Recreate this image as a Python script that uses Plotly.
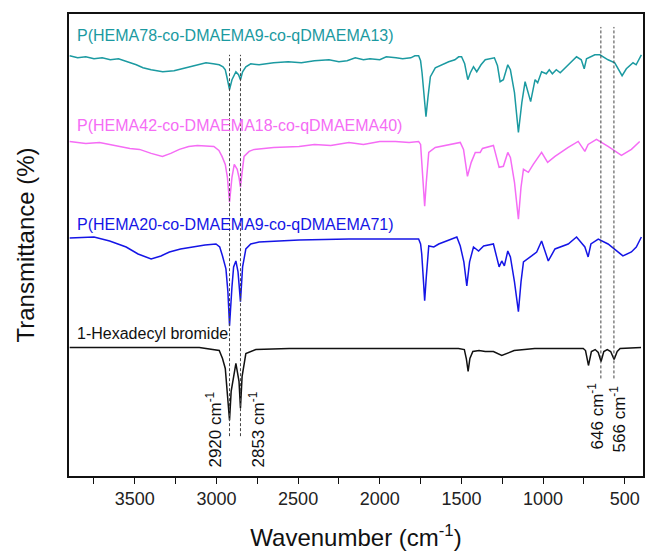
import plotly.graph_objects as go

# ---- data (wavenumber cm^-1, offset transmittance a.u.) ----
teal_wn = [3899, 3850, 3800, 3750, 3700, 3650, 3600, 3540, 3491, 3450, 3400, 3329, 3260, 3186, 3120,
           3064, 3020, 2983, 2960, 2946, 2935, 2920, 2905, 2881, 2865, 2853, 2840, 2820, 2790, 2739,
           2650, 2561, 2480, 2400, 2311, 2250, 2200, 2150, 2100, 2060, 2000, 1960, 1900, 1860, 1810,
           1785, 1762, 1750, 1741, 1728, 1717, 1705, 1690, 1660, 1620, 1578, 1540, 1517,
           1499, 1480, 1461, 1445, 1426, 1406, 1380, 1354, 1298, 1279, 1263, 1243, 1216, 1200, 1175,
           1151, 1130, 1110, 1076, 1049, 1033, 1009, 980, 962, 943, 919, 895, 865, 835, 795, 766,
           748, 734, 683, 652, 602, 561, 516, 490, 449, 430, 398]
teal_t = [422, 420, 421, 419, 420, 418, 419, 416, 413, 410, 408, 406, 407, 410, 413,
          415, 414, 413, 411, 408, 400, 388, 398, 406, 403, 398, 406, 411, 414, 413,
          415, 416, 415, 417, 418, 416, 417, 420, 418, 419, 418, 421, 420, 419, 420,
          422, 422, 417, 405, 380, 361, 380, 401, 410, 413, 416, 418, 421,
          421, 414, 398, 405, 411, 406, 413, 418, 420, 412, 396, 398, 413, 408, 385,
          345, 375, 396, 376, 398, 395, 406, 404, 408, 404, 408, 405, 410, 415, 421, 418,
          409, 419, 423, 423, 418, 415, 402, 409, 415, 413, 423]

pink_wn = [3899, 3800, 3716, 3650, 3593, 3530, 3471, 3400, 3331, 3280, 3227, 3170, 3117, 3016, 2985,
           2966, 2946, 2933, 2920, 2905, 2891, 2873, 2862, 2853, 2843, 2831, 2800, 2769, 2650, 2494,
           2400, 2300, 2189, 2100, 2000, 1904, 1820, 1762, 1750, 1743, 1732, 1725, 1715, 1700, 1660,
           1600, 1540, 1507, 1487, 1463, 1440, 1415, 1385, 1371, 1304, 1269, 1243, 1216, 1200, 1175,
           1151, 1135, 1120, 1090, 1060, 1009, 972, 927, 846, 785, 744, 724, 673, 602, 520, 459, 408]
pink_t = [336, 334, 335, 333, 331, 329, 328, 324, 321, 324, 328, 331, 332, 331, 327,
          321, 313, 300, 275, 300, 313, 308, 300, 290, 305, 321, 326, 328, 330, 331,
          333, 332, 335, 333, 336, 336, 335, 336, 333, 318, 290, 271, 295, 325, 330,
          332, 334, 335, 328, 301, 315, 325, 325, 329, 332, 310, 311, 325, 320, 295,
          258, 290, 308, 305, 313, 325, 315, 321, 330, 336, 326, 333, 338, 331, 322, 328, 336]

blue_wn = [3899, 3750, 3654, 3600, 3553, 3480, 3400, 3340, 3288, 3220, 3146, 3070, 3003, 2980, 2963,
           2942, 2930, 2920, 2905, 2895, 2881, 2868, 2853, 2840, 2820, 2790, 2739, 2494,
           2189, 1762, 1750, 1743, 1732, 1725, 1715, 1700, 1669, 1639, 1528, 1507, 1485, 1467, 1450,
           1426, 1395, 1364, 1304, 1269, 1253, 1237, 1216, 1200, 1175, 1151, 1135, 1120, 1070, 1039,
           1009, 968, 927, 846, 795, 744, 724, 707, 662, 602, 511, 459, 429, 398]
blue_t = [239, 240, 236, 233, 230, 223, 218, 221, 225, 228, 230, 232, 233, 230, 221,
          208, 185, 151, 190, 210, 216, 205, 175, 210, 228, 233, 235, 237,
          238, 238, 233, 223, 195, 176, 200, 231, 230, 233, 240, 231, 215, 191, 215,
          230, 226, 231, 233, 210, 216, 211, 226, 220, 195, 165, 195, 215, 221, 225,
          236, 216, 228, 233, 240, 230, 220, 233, 238, 233, 221, 225, 230, 240]

black_wn = [3899, 3105, 2983, 2963, 2946, 2930, 2920, 2910, 2881, 2862, 2853, 2843, 2820, 2759, 2555,
            1518, 1482, 1470, 1459, 1448, 1430, 1392, 1354, 1304, 1253, 1177, 1051, 754, 740, 722,
            704, 681, 662, 645, 628, 607, 586, 565, 546, 528, 400]
black_t = [129, 129, 126, 118, 108, 80, 56, 85, 113, 95, 68, 100, 123, 127, 128,
           128, 127, 118, 105, 118, 125, 126, 125, 125, 121, 126, 128, 128, 126, 111,
           125, 127, 124, 115, 125, 127, 125, 117, 125, 128, 129]

series = [
    ("P(HEMA78-co-DMAEMA9-co-qDMAEMA13)", teal_wn, teal_t, "#1b9aa1", 442),
    ("P(HEMA42-co-DMAEMA18-co-qDMAEMA40)", pink_wn, pink_t, "#f56cf5", 352),
    ("P(HEMA20-co-DMAEMA9-co-qDMAEMA71)", blue_wn, blue_t, "#1515e6", 253),
    ("1-Hexadecyl bromide", black_wn, black_t, "#111111", 143),
]

marked_peaks = [2920, 2853, 646, 566]
peak_line_top = [423, 423, 451, 451]
peak_line_bottom = [40, 40, 98, 98]
peak_label_x = [3013, 2750, 675, 540]
peak_label_y = [47, 47, 60, 57]

FONT = "Liberation Sans, Arial, sans-serif"

fig = go.Figure()
for name, wn, t, color, ly in series:
    fig.add_trace(go.Scatter(x=wn, y=t, mode="lines", name=name,
                             line=dict(color=color, width=1.5), showlegend=False))
    fig.add_annotation(x=3868, y=ly, xref="x", yref="y", text=name, showarrow=False,
                       xanchor="left", yanchor="middle",
                       font=dict(family=FONT, size=16, color=color))

for pk, top, bot, lx, lyy in zip(marked_peaks, peak_line_top, peak_line_bottom, peak_label_x, peak_label_y):
    fig.add_shape(type="line", x0=pk, x1=pk, y0=bot, y1=top, xref="x", yref="y",
                  line=dict(color="#444444", width=1, dash="3px,2px"))
    fig.add_annotation(x=lx, y=lyy, xref="x", yref="y", text=f"{pk} cm<sup>-1</sup>",
                       showarrow=False, textangle=-90, xanchor="center", yanchor="middle",
                       font=dict(family=FONT, size=17, color="#111111"))

fig.update_layout(
    width=646, height=551,
    margin=dict(l=69, r=1, t=14, b=73),
    paper_bgcolor="white", plot_bgcolor="white",
    font=dict(family=FONT, color="#111111"),
    xaxis=dict(range=[3903, 388], tickvals=[3500, 3000, 2500, 2000, 1500, 1000, 500],
               ticks="outside", ticklen=6, tickwidth=1.2, tickcolor="#111111",
               minor=dict(tickvals=[3750, 3250, 2750, 2250, 1750, 1250, 750], ticks="outside",
                          ticklen=6, tickwidth=1.2, tickcolor="#111111"),
               showline=True, linecolor="#111111", linewidth=1.5, mirror=True,
               showgrid=False, zeroline=False,
               tickfont=dict(family=FONT, size=18, color="#222222"),
               title=dict(text="Wavenumber (cm<sup>-1</sup>)", standoff=24,
                          font=dict(family=FONT, size=24, color="#111111"))),
    yaxis=dict(range=[0, 464], showticklabels=False, ticks="",
               showline=True, linecolor="#111111", linewidth=1.5, mirror=True,
               showgrid=False, zeroline=False,
               title=dict(text="Transmittance (%)", standoff=26,
                          font=dict(family=FONT, size=24, color="#111111"))),
)

fig.write_html("out.html")
